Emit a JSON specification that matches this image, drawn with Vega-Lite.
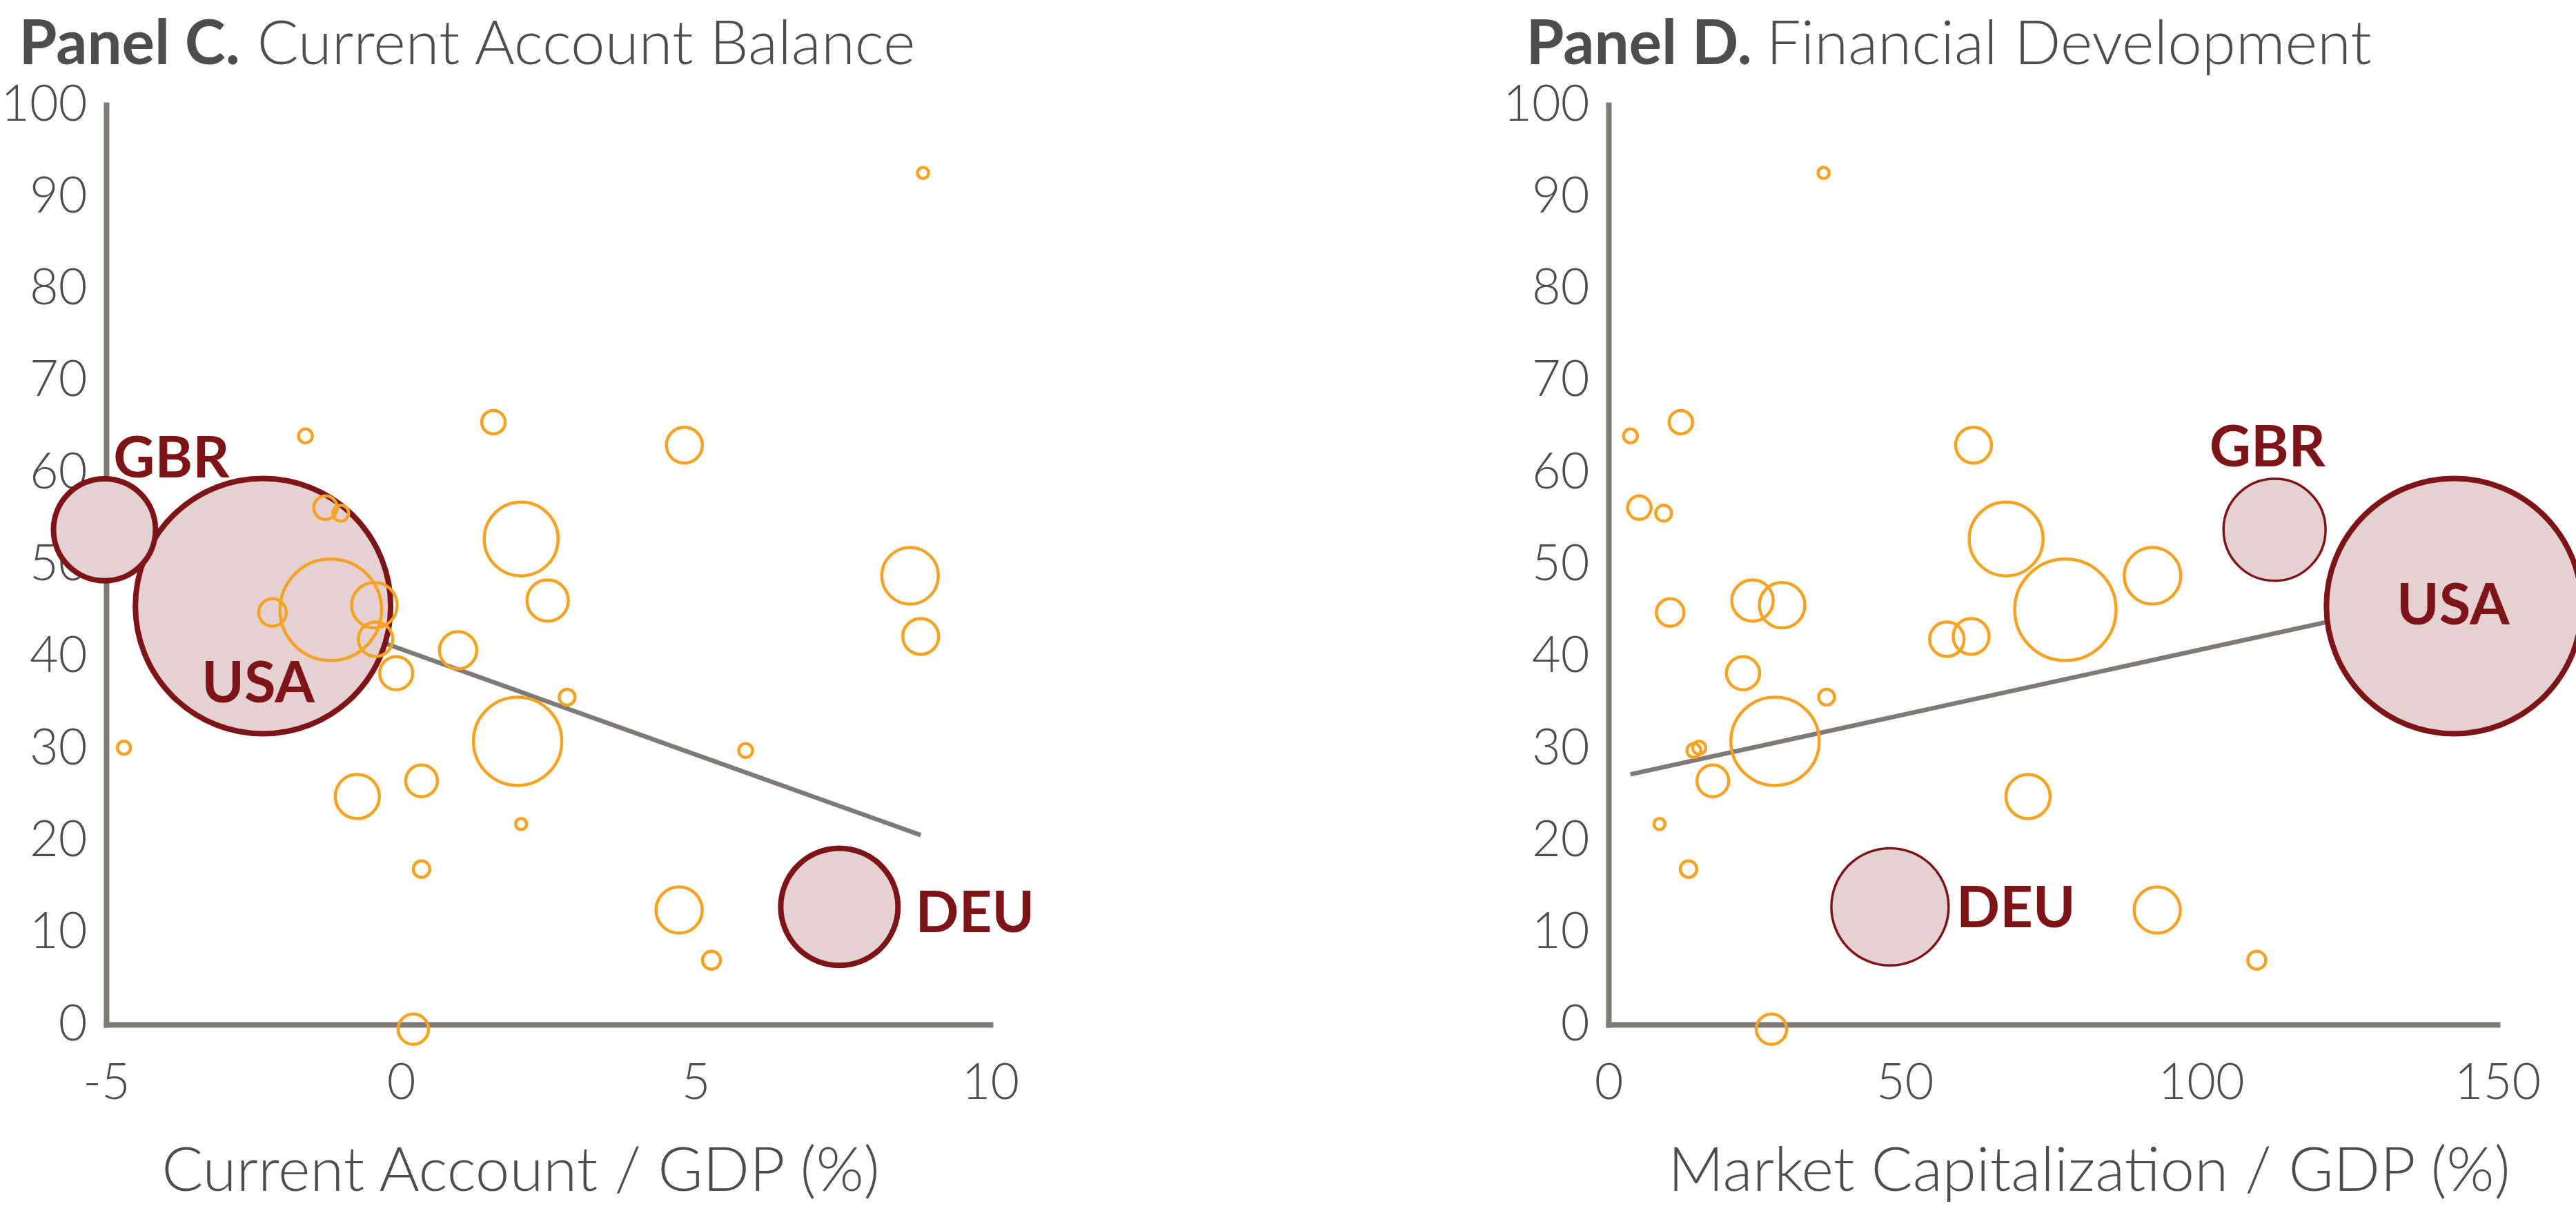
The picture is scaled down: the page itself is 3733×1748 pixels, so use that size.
{
  "$schema": "https://vega.github.io/schema/vega-lite/v6.json",
  "background": "white",
  "padding": {"left": 0, "top": 21, "right": 0, "bottom": 0},
  "datasets": {
    "countries": [
      {"country": "USA", "group": "Highlighted", "ca": -2.34, "mcap": 142.7, "share": 45.5, "gdp": 17.4},
      {"country": "GBR", "group": "Highlighted", "ca": -5.03, "mcap": 112.4, "share": 53.8, "gdp": 2.78},
      {"country": "DEU", "group": "Highlighted", "ca": 7.44, "mcap": 47.5, "share": 12.8, "gdp": 3.67},
      {"country": "c01", "group": "Other", "ca": 8.86, "mcap": 36.3, "share": 92.6, "gdp": 0.033},
      {"country": "c02", "group": "Other", "ca": -1.62, "mcap": 3.7, "share": 64.0, "gdp": 0.051},
      {"country": "c03", "group": "Other", "ca": 1.57, "mcap": 12.2, "share": 65.5, "gdp": 0.147},
      {"country": "c04", "group": "Other", "ca": 4.81, "mcap": 61.6, "share": 63.0, "gdp": 0.344},
      {"country": "c05", "group": "Other", "ca": -1.28, "mcap": 5.2, "share": 56.2, "gdp": 0.147},
      {"country": "c06", "group": "Other", "ca": -1.02, "mcap": 9.3, "share": 55.6, "gdp": 0.067},
      {"country": "c07", "group": "Other", "ca": 2.04, "mcap": 67.1, "share": 52.8, "gdp": 1.455},
      {"country": "c08", "group": "Other", "ca": 8.64, "mcap": 91.8, "share": 48.8, "gdp": 0.855},
      {"country": "c09", "group": "Other", "ca": 2.49, "mcap": 24.3, "share": 46.1, "gdp": 0.458},
      {"country": "c10", "group": "Other", "ca": -1.19, "mcap": 77.1, "share": 45.1, "gdp": 2.746},
      {"country": "c11", "group": "Other", "ca": -2.18, "mcap": 10.4, "share": 44.8, "gdp": 0.203},
      {"country": "c12", "group": "Other", "ca": -0.45, "mcap": 29.3, "share": 45.6, "gdp": 0.554},
      {"country": "c13", "group": "Other", "ca": -0.43, "mcap": 57.1, "share": 41.9, "gdp": 0.318},
      {"country": "c14", "group": "Other", "ca": 8.82, "mcap": 61.2, "share": 42.2, "gdp": 0.344},
      {"country": "c15", "group": "Other", "ca": -0.08, "mcap": 22.7, "share": 38.2, "gdp": 0.293},
      {"country": "c16", "group": "Other", "ca": 0.97, "mcap": null, "share": 40.7, "gdp": 0.371},
      {"country": "c17", "group": "Other", "ca": 2.82, "mcap": 36.8, "share": 35.6, "gdp": 0.067},
      {"country": "c18", "group": "Other", "ca": 1.98, "mcap": 28.1, "share": 30.8, "gdp": 2.082},
      {"country": "c19", "group": "Other", "ca": -4.7, "mcap": 15.3, "share": 30.1, "gdp": 0.046},
      {"country": "c20", "group": "Other", "ca": 5.85, "mcap": 14.4, "share": 29.8, "gdp": 0.051},
      {"country": "c21", "group": "Other", "ca": 0.35, "mcap": 17.6, "share": 26.5, "gdp": 0.269},
      {"country": "c22", "group": "Other", "ca": -0.74, "mcap": 70.8, "share": 24.8, "gdp": 0.521},
      {"country": "c23", "group": "Other", "ca": 2.04, "mcap": 8.6, "share": 21.8, "gdp": 0.033},
      {"country": "c24", "group": "Other", "ca": 0.35, "mcap": 13.5, "share": 16.9, "gdp": 0.073},
      {"country": "c25", "group": "Other", "ca": 4.72, "mcap": 92.6, "share": 12.45, "gdp": 0.571},
      {"country": "c26", "group": "Other", "ca": 5.27, "mcap": 109.4, "share": 7.0, "gdp": 0.086},
      {"country": "c27", "group": "Other", "ca": 0.21, "mcap": 27.5, "share": -0.5, "gdp": 0.246}
    ],
    "fit_c": [
      {"x": -2.3, "y": 46.1},
      {"x": 8.82, "y": 20.6}
    ],
    "fit_d": [
      {"x": 3.7, "y": 27.2},
      {"x": 142.7, "y": 46.8}
    ],
    "labels_c": [
      {"label": "GBR", "x": -4.88, "y": 59.5},
      {"label": "USA", "x": -3.38, "y": 35.0},
      {"label": "DEU", "x": 8.73, "y": 10.05}
    ],
    "labels_d": [
      {"label": "GBR", "x": 101.4, "y": 60.7},
      {"label": "USA", "x": 133.0, "y": 43.5},
      {"label": "DEU", "x": 58.7, "y": 10.6}
    ]
  },
  "hconcat": [
    {
      "width": 1281,
      "height": 1333,
      "resolve": {"axis": {"x": "independent"}},
      "layer": [
        {
          "data": {"name": "fit_c"},
          "mark": {"type": "line", "color": "#7F7A75", "strokeWidth": 6.5},
          "encoding": {
            "x": {"field": "x", "type": "quantitative", "scale": {"domain": [-5, 10], "nice": false, "zero": false}, "axis": null},
            "y": {"field": "y", "type": "quantitative", "scale": {"domain": [0, 100], "nice": false}}
          }
        },
        {
          "data": {"name": "countries"},
          "transform": [{"filter": "datum.group === 'Highlighted'"}],
          "mark": {"type": "circle", "opacity": 1, "fill": "#E5D0D2", "stroke": "#7D1417", "strokeWidth": 8},
          "encoding": {
            "x": {
              "field": "ca", "type": "quantitative",
              "scale": {"domain": [-5, 10], "nice": false, "zero": false},
              "axis": {"orient": "bottom", "values": [-5, 0, 5, 10], "labelExpr": "replace(datum.label, '−', '-')", "title": "Current Account / GDP (%)", "titleX": 600, "titleY": 240}
            },
            "y": {
              "field": "share", "type": "quantitative",
              "scale": {"domain": [0, 100], "nice": false},
              "axis": {"values": [0, 10, 20, 30, 40, 50, 60, 70, 80, 90, 100], "title": "Current Account Balance", "titleAngle": 0, "titleAlign": "left", "titleX": 218, "titleY": -60}
            },
            "size": {"field": "gdp", "type": "quantitative", "scale": {"type": "linear", "domain": [0, 17.4], "range": [0, 136900], "zero": true}, "legend": null}
          }
        },
        {
          "data": {"name": "countries"},
          "transform": [{"filter": "datum.group === 'Other'"}],
          "mark": {"type": "point", "shape": "circle", "filled": false, "opacity": 1, "stroke": "#F6A323", "strokeWidth": 4.5},
          "encoding": {
            "x": {"field": "ca", "type": "quantitative", "axis": null},
            "y": {"field": "share", "type": "quantitative"},
            "size": {"field": "gdp", "type": "quantitative", "scale": {"type": "linear", "domain": [0, 17.4], "range": [0, 136900], "zero": true}, "legend": null}
          }
        },
        {
          "data": {"name": "labels_c"},
          "mark": {"type": "text", "font": "Lato", "fontWeight": "bold", "fontSize": 83, "color": "#7D1417", "align": "left", "baseline": "alphabetic"},
          "encoding": {
            "x": {
              "field": "x", "type": "quantitative",
              "axis": {"orient": "top", "labels": false, "domain": false, "ticks": false, "title": "Panel C.", "titleFontWeight": "bold", "titleX": -127, "titleY": -60, "titleAlign": "left"}
            },
            "y": {"field": "y", "type": "quantitative"},
            "text": {"field": "label"}
          }
        }
      ]
    },
    {
      "width": 1288,
      "height": 1333,
      "resolve": {"axis": {"x": "independent"}},
      "layer": [
        {
          "data": {"name": "fit_d"},
          "mark": {"type": "line", "color": "#7F7A75", "strokeWidth": 6.5},
          "encoding": {
            "x": {"field": "x", "type": "quantitative", "scale": {"domain": [0, 150], "nice": false, "zero": false}, "axis": null},
            "y": {"field": "y", "type": "quantitative", "scale": {"domain": [0, 100], "nice": false}}
          }
        },
        {
          "data": {"name": "countries"},
          "transform": [{"filter": "datum.group === 'Highlighted'"}],
          "mark": {"type": "circle", "opacity": 1, "fill": "#E5D0D2", "stroke": "#7D1417"},
          "encoding": {
            "x": {
              "field": "mcap", "type": "quantitative",
              "scale": {"domain": [0, 150], "nice": false, "zero": false},
              "axis": {"orient": "bottom", "values": [0, 50, 100, 150], "title": "Market Capitalization / GDP (%)", "titleX": 696, "titleY": 240}
            },
            "y": {
              "field": "share", "type": "quantitative",
              "scale": {"domain": [0, 100], "nice": false},
              "axis": {"values": [0, 10, 20, 30, 40, 50, 60, 70, 80, 90, 100], "title": "Financial Development", "titleAngle": 0, "titleAlign": "left", "titleX": 228, "titleY": -60}
            },
            "size": {"field": "gdp", "type": "quantitative", "scale": {"type": "linear", "domain": [0, 17.4], "range": [0, 136900], "zero": true}, "legend": null},
            "strokeWidth": {"condition": {"test": "datum.country === 'USA'", "value": 8}, "value": 3.5}
          }
        },
        {
          "data": {"name": "countries"},
          "transform": [{"filter": "datum.group === 'Other'"}],
          "mark": {"type": "point", "shape": "circle", "filled": false, "opacity": 1, "stroke": "#F6A323", "strokeWidth": 4.5},
          "encoding": {
            "x": {"field": "mcap", "type": "quantitative", "axis": null},
            "y": {"field": "share", "type": "quantitative"},
            "size": {"field": "gdp", "type": "quantitative", "scale": {"type": "linear", "domain": [0, 17.4], "range": [0, 136900], "zero": true}, "legend": null}
          }
        },
        {
          "data": {"name": "labels_d"},
          "mark": {"type": "text", "font": "Lato", "fontWeight": "bold", "fontSize": 83, "color": "#7D1417", "align": "left", "baseline": "alphabetic"},
          "encoding": {
            "x": {
              "field": "x", "type": "quantitative",
              "axis": {"orient": "top", "labels": false, "domain": false, "ticks": false, "title": "Panel D.", "titleFontWeight": "bold", "titleX": -120, "titleY": -60, "titleAlign": "left"}
            },
            "y": {"field": "y", "type": "quantitative"},
            "text": {"field": "label"}
          }
        }
      ]
    }
  ],
  "spacing": 896,
  "bounds": "flush",
  "config": {
    "view": {"stroke": null},
    "axis": {
      "grid": false,
      "ticks": false,
      "domainColor": "#7F7A75",
      "domainWidth": 8,
      "domainCap": "square",
      "labelFont": "Lato",
      "labelFontWeight": 300,
      "labelFontSize": 72,
      "labelColor": "#4D4D4F",
      "labelOverlap": false,
      "labelFlush": false,
      "titleFont": "Lato",
      "titleFontWeight": 300,
      "titleFontSize": 89,
      "titleColor": "#4D4D4F",
      "titleBaseline": "alphabetic"
    },
    "axisY": {"labelPadding": 28},
    "axisX": {"labelPadding": 50}
  }
}
